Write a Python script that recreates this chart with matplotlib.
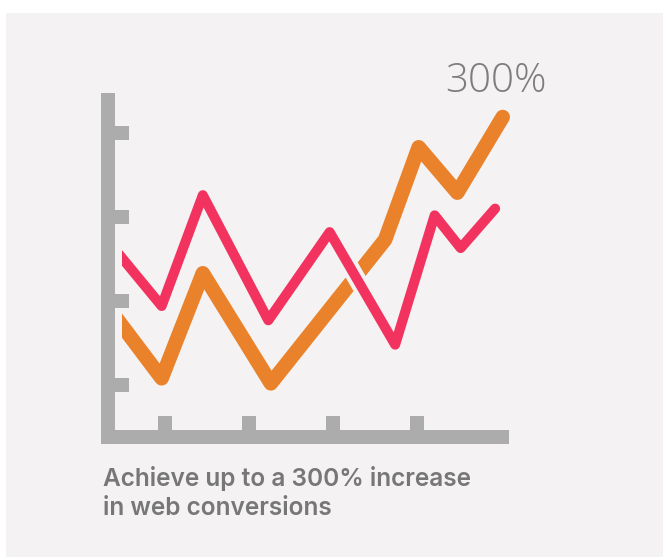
import matplotlib.pyplot as plt
from matplotlib.patches import Rectangle
import matplotlib.patheffects as pe

# data (one unit = one tick step)
pink_x = [0.35, 0.96, 1.45, 2.23, 2.96, 3.74, 4.21, 4.52, 4.93]
pink_y = [2.68, 1.94, 3.26, 1.77, 2.82, 1.48, 3.02, 2.63, 3.10]

orange_x = [0.35, 0.96, 1.45, 2.26, 3.62, 4.02, 4.48, 5.02]
orange_y = [1.89, 1.08, 2.33, 1.02, 2.73, 3.83, 3.29, 4.19]

x_ticks = [1, 2, 3, 4]
y_ticks = [1, 2, 3, 4]

headline = "300%"
caption = ["Achieve up to a 300% increase", "in web conversions"]

bg = "#f4f2f3"
axis_col = "#acacac"
pink = "#f2335f"
orange = "#e9822a"

W, H = 663, 557
fig = plt.figure(figsize=(W / 100, H / 100), dpi=100)
fig.patch.set_facecolor("white")
fig.patches.append(Rectangle((6 / W, 0), 1, (H - 13) / H, transform=fig.transFigure,
                             facecolor=bg, edgecolor="none", zorder=-5))

# axes starts where the lines are cut off on the left
ax = fig.add_axes([122 / W, 0, (W - 122) / W, 1])
ax.set_xlim((122 - 81) / 84, (W - 81) / 84)
ax.set_ylim((469 - H) / 84, 469 / 84)
ax.axis("off")
ax.patch.set_alpha(0)

# drawn axis frame
bar = 14 / 84
ax_x0 = 0.238
ax_y0 = 0.298
def box(x, y, w, h):
    ax.add_patch(Rectangle((x, y), w, h, facecolor=axis_col, edgecolor="none",
                           clip_on=False, zorder=1))

box(ax_x0, ax_y0, bar, 4.476 - ax_y0)
box(ax_x0, ax_y0, 5.095 - ax_x0, bar)
for t in y_ticks:
    box(ax_x0 + bar, t - bar / 2, bar, bar)
for t in x_ticks:
    box(t - bar / 2, ax_y0 + bar, bar, bar)

ax.plot(orange_x, orange_y, color=orange, lw=10.5, solid_capstyle="round",
        solid_joinstyle="round", zorder=2)
ax.plot(pink_x, pink_y, color=pink, lw=7.2, solid_capstyle="round",
        solid_joinstyle="round", zorder=3,
        path_effects=[pe.Stroke(linewidth=13, foreground=bg), pe.Normal()])

fig.text(445 / W, 1 - 92 / H, headline, fontsize=29, color="#7d7d7d",
         family="Open Sans", weight="light", va="baseline", ha="left")
for i, line in enumerate(caption):
    fig.text(103 / W, 1 - (486 + 29 * i) / H, line, fontsize=17.6, color="#777777",
             family="Inter", weight=600, va="baseline", ha="left")

fig.savefig("out.png", dpi=100, facecolor=fig.get_facecolor())
